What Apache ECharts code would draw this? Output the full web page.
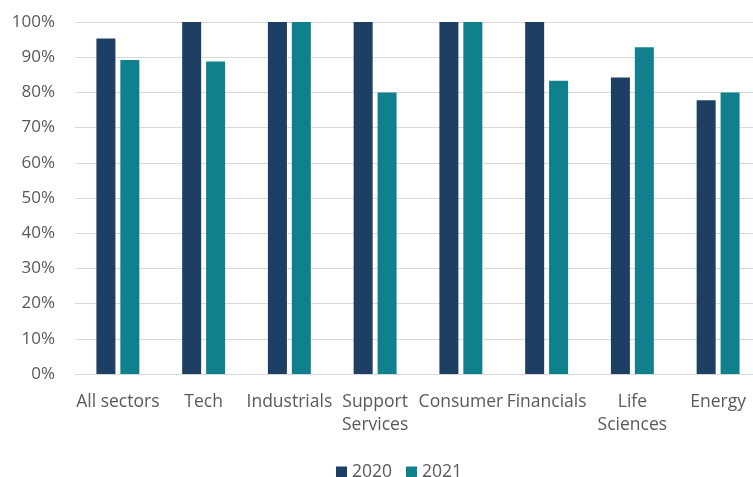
<!DOCTYPE html>
<html>
<head>
<meta charset="utf-8">
<script src="https://cdn.jsdelivr.net/npm/echarts@6/dist/echarts.min.js"></script>
<style>
html,body{margin:0;padding:0;background:#fff;overflow:hidden;width:753px;height:477px;}
#chart{width:761px;height:477px;}
</style>
</head>
<body>
<div id="chart"></div>
<script>
// Sector shares, 2020 vs 2021 (percent)
const categories = ['All sectors', 'Tech', 'Industrials', 'Support\nServices', 'Consumer', 'Financials', 'Life\nSciences', 'Energy'];
const values2020 = [95.3, 100, 100, 100, 100, 100, 84.2, 77.8];
const values2021 = [89.2, 88.8, 100, 80, 100, 83.3, 92.8, 80];
const seriesNames = ['2020', '2021'];

const font = '"Open Sans", "Liberation Sans", sans-serif';
// The plot area runs slightly past the right edge of the visible page
const chart = echarts.init(document.getElementById('chart'));
chart.setOption({
  animation: false,
  textStyle: { fontFamily: font },
  grid: { left: 75, top: 22, right: 0, height: 352, containLabel: false },
  legend: {
    data: seriesNames,
    top: 458,
    left: 331,
    itemWidth: 11,
    itemHeight: 11,
    itemGap: 14,
    icon: 'rect',
    textStyle: { color: '#595959', fontSize: 17.5, fontFamily: font }
  },
  xAxis: {
    type: 'category',
    data: categories,
    axisLine: { show: true, lineStyle: { color: '#d9d9d9', width: 1 } },
    axisTick: { show: false },
    axisLabel: { color: '#595959', fontSize: 17.5, margin: 16, lineHeight: 23.5, interval: 0, fontFamily: font }
  },
  yAxis: {
    type: 'value',
    min: 0,
    max: 100,
    interval: 10,
    axisLabel: { formatter: '{value}%', color: '#595959', fontSize: 17, margin: 20, fontFamily: font },
    splitLine: { lineStyle: { color: '#d9d9d9', width: 1 } },
    axisLine: { show: false },
    axisTick: { show: false }
  },
  series: [
    {
      name: seriesNames[0], type: 'bar', data: values2020,
      barWidth: 19, barGap: '26%',
      itemStyle: { color: '#1c3f63' }
    },
    {
      name: seriesNames[1], type: 'bar', data: values2021,
      barWidth: 19,
      itemStyle: { color: '#10808c' }
    }
  ]
});
</script>
</body>
</html>
